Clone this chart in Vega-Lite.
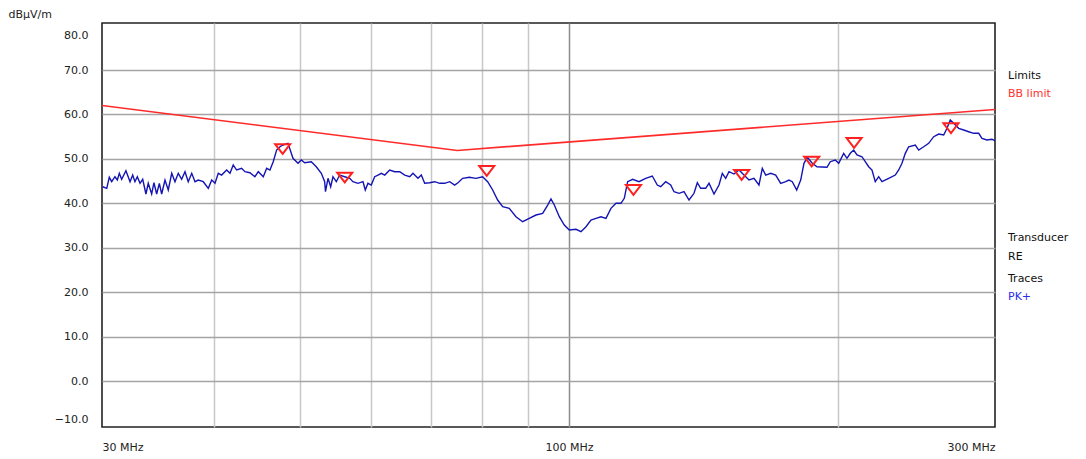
{
  "$schema": "https://vega.github.io/schema/vega-lite/v6.json",
  "width": 893,
  "height": 404,
  "autosize": {"type": "none"},
  "padding": {"left": 102, "top": 23, "right": 91, "bottom": 32},
  "background": "white",
  "config": {
    "view": {"stroke": "#222222", "strokeWidth": 1.6},
    "font": "DejaVu Sans"
  },
  "datasets": {
    "limit": [
      {"f": 30, "db": 62.0},
      {"f": 75, "db": 51.9},
      {"f": 300, "db": 61.1}
    ],
    "markers": [
      {"f": 47.8, "db": 52.2},
      {"f": 56.1, "db": 45.8},
      {"f": 80.9, "db": 47.3},
      {"f": 118.1, "db": 43.0},
      {"f": 156.1, "db": 46.4},
      {"f": 187.0, "db": 49.4},
      {"f": 208.6, "db": 53.6},
      {"f": 267.8, "db": 56.9}
    ],
    "trace": [
      {"f": 30.05, "db": 43.73}, {"f": 30.37, "db": 43.37}, {"f": 30.57, "db": 45.85}, {"f": 30.76, "db": 44.86},
      {"f": 31.02, "db": 45.98}, {"f": 31.21, "db": 45.24}, {"f": 31.37, "db": 46.75}, {"f": 31.56, "db": 45.40},
      {"f": 31.91, "db": 47.33}, {"f": 32.25, "db": 44.86}, {"f": 32.47, "db": 46.36}, {"f": 32.66, "db": 44.86},
      {"f": 32.86, "db": 45.98}, {"f": 33.09, "db": 44.50}, {"f": 33.32, "db": 45.40}, {"f": 33.60, "db": 42.09},
      {"f": 33.80, "db": 44.50}, {"f": 34.10, "db": 42.09}, {"f": 34.30, "db": 44.63}, {"f": 34.54, "db": 42.09},
      {"f": 34.78, "db": 44.50}, {"f": 34.99, "db": 42.09}, {"f": 35.29, "db": 45.24}, {"f": 35.59, "db": 42.99},
      {"f": 35.91, "db": 46.75}, {"f": 36.21, "db": 44.86}, {"f": 36.52, "db": 46.75}, {"f": 36.84, "db": 45.40},
      {"f": 37.16, "db": 47.11}, {"f": 37.47, "db": 44.86}, {"f": 37.81, "db": 46.75}, {"f": 38.13, "db": 44.86},
      {"f": 38.45, "db": 45.24}, {"f": 38.95, "db": 44.86}, {"f": 39.46, "db": 43.37}, {"f": 39.81, "db": 45.24},
      {"f": 40.15, "db": 44.50}, {"f": 40.49, "db": 46.75}, {"f": 40.84, "db": 46.36}, {"f": 41.37, "db": 47.49},
      {"f": 41.73, "db": 46.75}, {"f": 42.08, "db": 48.62}, {"f": 42.45, "db": 47.49}, {"f": 43.00, "db": 47.87},
      {"f": 43.37, "db": 47.11}, {"f": 43.93, "db": 46.88}, {"f": 44.50, "db": 45.98}, {"f": 44.89, "db": 47.11},
      {"f": 45.47, "db": 45.98}, {"f": 45.87, "db": 47.87}, {"f": 46.26, "db": 47.49}, {"f": 46.65, "db": 49.36},
      {"f": 47.06, "db": 51.99}, {"f": 47.47, "db": 52.73}, {"f": 47.84, "db": 53.12}, {"f": 48.46, "db": 53.50},
      {"f": 49.09, "db": 50.12}, {"f": 49.73, "db": 49.00}, {"f": 50.15, "db": 49.74}, {"f": 50.59, "db": 49.13},
      {"f": 51.46, "db": 49.36}, {"f": 52.13, "db": 48.23}, {"f": 52.81, "db": 46.75}, {"f": 53.27, "db": 44.86},
      {"f": 53.38, "db": 42.61}, {"f": 53.73, "db": 45.62}, {"f": 54.10, "db": 43.73}, {"f": 54.42, "db": 45.98},
      {"f": 54.89, "db": 44.86}, {"f": 55.37, "db": 46.36}, {"f": 56.09, "db": 45.98}, {"f": 56.82, "db": 45.62},
      {"f": 57.30, "db": 44.86}, {"f": 58.04, "db": 44.50}, {"f": 58.80, "db": 44.86}, {"f": 59.15, "db": 42.99},
      {"f": 59.56, "db": 44.50}, {"f": 60.07, "db": 44.11}, {"f": 60.60, "db": 45.98}, {"f": 61.12, "db": 46.36},
      {"f": 61.64, "db": 46.75}, {"f": 62.19, "db": 46.36}, {"f": 62.99, "db": 47.49}, {"f": 63.81, "db": 47.11},
      {"f": 64.64, "db": 47.11}, {"f": 65.48, "db": 46.36}, {"f": 66.33, "db": 45.98}, {"f": 66.89, "db": 46.75},
      {"f": 67.76, "db": 45.62}, {"f": 68.34, "db": 46.36}, {"f": 68.94, "db": 44.50}, {"f": 69.83, "db": 44.63},
      {"f": 70.74, "db": 44.86}, {"f": 71.66, "db": 44.50}, {"f": 72.59, "db": 44.50}, {"f": 73.53, "db": 44.86},
      {"f": 74.48, "db": 44.11}, {"f": 75.12, "db": 44.63}, {"f": 76.03, "db": 45.62}, {"f": 77.34, "db": 45.85},
      {"f": 78.68, "db": 45.62}, {"f": 80.05, "db": 45.98}, {"f": 81.09, "db": 44.86}, {"f": 82.15, "db": 42.99},
      {"f": 83.21, "db": 40.74}, {"f": 84.29, "db": 39.23}, {"f": 85.74, "db": 38.87}, {"f": 87.23, "db": 36.98},
      {"f": 88.75, "db": 35.85}, {"f": 90.28, "db": 36.62}, {"f": 91.85, "db": 37.36}, {"f": 93.45, "db": 37.74},
      {"f": 94.67, "db": 39.61}, {"f": 95.48, "db": 40.96}, {"f": 96.30, "db": 39.61}, {"f": 97.55, "db": 36.98},
      {"f": 98.81, "db": 35.11}, {"f": 100.09, "db": 33.99}, {"f": 101.84, "db": 34.14}, {"f": 103.16, "db": 33.60},
      {"f": 104.50, "db": 34.73}, {"f": 105.85, "db": 36.24}, {"f": 107.22, "db": 36.62}, {"f": 108.62, "db": 36.98},
      {"f": 110.02, "db": 36.62}, {"f": 111.45, "db": 38.87}, {"f": 112.90, "db": 40.00}, {"f": 114.36, "db": 40.00},
      {"f": 115.34, "db": 41.12}, {"f": 116.35, "db": 44.86}, {"f": 117.86, "db": 45.40}, {"f": 119.80, "db": 44.86},
      {"f": 121.89, "db": 45.62}, {"f": 123.98, "db": 46.14}, {"f": 125.59, "db": 44.11}, {"f": 126.70, "db": 43.73},
      {"f": 128.34, "db": 44.86}, {"f": 130.01, "db": 44.11}, {"f": 131.12, "db": 42.61}, {"f": 132.82, "db": 42.25},
      {"f": 134.54, "db": 42.61}, {"f": 136.29, "db": 40.74}, {"f": 138.06, "db": 42.25}, {"f": 139.24, "db": 44.63},
      {"f": 140.46, "db": 43.37}, {"f": 142.28, "db": 43.37}, {"f": 143.50, "db": 44.50}, {"f": 145.36, "db": 42.09},
      {"f": 147.25, "db": 44.11}, {"f": 148.51, "db": 46.75}, {"f": 149.81, "db": 45.62}, {"f": 151.09, "db": 47.11},
      {"f": 153.05, "db": 46.59}, {"f": 155.04, "db": 47.49}, {"f": 157.05, "db": 46.36}, {"f": 159.09, "db": 45.24},
      {"f": 161.15, "db": 45.62}, {"f": 163.24, "db": 44.11}, {"f": 164.64, "db": 47.87}, {"f": 166.09, "db": 46.36},
      {"f": 168.24, "db": 46.75}, {"f": 170.43, "db": 46.36}, {"f": 172.64, "db": 44.50}, {"f": 174.88, "db": 44.86},
      {"f": 176.37, "db": 45.24}, {"f": 177.88, "db": 44.86}, {"f": 179.91, "db": 42.99}, {"f": 181.77, "db": 45.24},
      {"f": 183.32, "db": 49.00}, {"f": 184.89, "db": 50.35}, {"f": 187.29, "db": 49.00}, {"f": 189.58, "db": 48.23},
      {"f": 194.53, "db": 48.10}, {"f": 196.19, "db": 49.36}, {"f": 198.73, "db": 49.74}, {"f": 200.48, "db": 49.00},
      {"f": 203.08, "db": 51.25}, {"f": 204.82, "db": 50.12}, {"f": 206.57, "db": 51.25}, {"f": 208.39, "db": 51.99},
      {"f": 210.17, "db": 50.87}, {"f": 212.89, "db": 50.48}, {"f": 214.71, "db": 49.36}, {"f": 216.60, "db": 48.23},
      {"f": 218.46, "db": 47.49}, {"f": 220.32, "db": 44.86}, {"f": 222.26, "db": 45.98}, {"f": 224.16, "db": 44.86},
      {"f": 228.07, "db": 45.62}, {"f": 231.98, "db": 46.36}, {"f": 234.03, "db": 47.49}, {"f": 236.03, "db": 49.00},
      {"f": 238.05, "db": 51.25}, {"f": 240.14, "db": 52.73}, {"f": 244.27, "db": 53.12}, {"f": 246.42, "db": 51.99},
      {"f": 249.62, "db": 52.73}, {"f": 252.85, "db": 53.50}, {"f": 256.13, "db": 54.99}, {"f": 259.46, "db": 55.59},
      {"f": 262.82, "db": 55.37}, {"f": 265.07, "db": 56.88}, {"f": 267.33, "db": 58.74}, {"f": 269.69, "db": 58.00},
      {"f": 273.19, "db": 56.88}, {"f": 276.73, "db": 56.49}, {"f": 280.32, "db": 56.11}, {"f": 283.96, "db": 55.75},
      {"f": 287.64, "db": 55.75}, {"f": 290.10, "db": 54.62}, {"f": 293.86, "db": 54.24}, {"f": 297.68, "db": 54.40},
      {"f": 300.0, "db": 54.08}
    ]
  },
  "layer": [
    {
      "data": {"name": "limit"},
      "mark": {"type": "line", "strokeWidth": 1.6, "clip": true},
      "encoding": {
        "x": {
          "field": "f", "type": "quantitative",
          "scale": {"type": "log", "domain": [30, 300], "nice": false},
          "axis": {
            "title": null,
            "values": [30, 40, 50, 60, 70, 80, 90, 100, 200, 300],
            "labelExpr": "datum.value == 30 || datum.value == 100 || datum.value == 300 ? datum.value + ' MHz' : ''",
            "labelFlush": true,
            "labelOverlap": false,
            "ticks": false,
            "domain": false,
            "grid": true,
            "gridColor": {
              "condition": [
                {"test": "datum.value == 100", "value": "#8c8c8c"},
                {"test": "datum.value == 30 || datum.value == 300", "value": "transparent"}
              ],
              "value": "#c8c8c8"
            },
            "gridWidth": 1.5,
            "labelPadding": 14,
            "labelFont": "DejaVu Sans",
            "labelFontSize": 11,
            "labelColor": "#222222"
          }
        },
        "y": {
          "field": "db", "type": "quantitative",
          "scale": {"domain": [-10.35, 80.58], "nice": false, "zero": false},
          "axis": {
            "values": [-10, 0, 10, 20, 30, 40, 50, 60, 70, 80],
            "format": ".1f",
            "labelFlush": false,
            "labelOffset": {
              "condition": [
                {"test": "datum.value == 80", "value": 10},
                {"test": "datum.value == -10", "value": -6}
              ],
              "value": 0
            },
            "ticks": false,
            "domain": false,
            "grid": true,
            "gridColor": {
              "condition": {"test": "datum.value == 80 || datum.value == -10", "value": "transparent"},
              "value": "#a4a4a4"
            },
            "gridWidth": 1.5,
            "labelPadding": 14,
            "labelFont": "DejaVu Sans",
            "labelFontSize": 11,
            "labelColor": "#222222",
            "title": "dBµV/m",
            "titleAngle": 0,
            "titleAlign": "left",
            "titleBaseline": "middle",
            "titleX": -94,
            "titleY": -9,
            "titleFont": "DejaVu Sans",
            "titleFontSize": 11,
            "titleFontWeight": "normal",
            "titleColor": "#222222"
          }
        },
        "color": {
          "datum": "BB limit", "type": "nominal",
          "scale": {"range": ["#ff2a2a"]},
          "legend": {
            "title": "Limits", "orient": "none", "legendX": 906, "legendY": 47,
            "padding": 0, "symbolOpacity": 0, "symbolSize": 1, "symbolStrokeWidth": 0, "labelOffset": -11,
            "labelColor": "#ff3030", "labelFont": "DejaVu Sans", "labelFontSize": 11,
            "titleFont": "DejaVu Sans", "titleFontSize": 11, "titleFontWeight": "normal", "titleColor": "#111111",
            "titlePadding": 7
          }
        }
      }
    },
    {
      "data": {"name": "trace"},
      "mark": {"type": "line", "strokeWidth": 1.4, "clip": true},
      "encoding": {
        "x": {"field": "f", "type": "quantitative"},
        "y": {"field": "db", "type": "quantitative"},
        "color": {
          "datum": "PK+", "type": "nominal",
          "scale": {"range": ["#1414b4"]},
          "legend": {
            "title": "Traces", "orient": "none", "legendX": 906, "legendY": 250,
            "padding": 0, "symbolOpacity": 0, "symbolSize": 1, "symbolStrokeWidth": 0, "labelOffset": -11,
            "labelColor": "#2b2bea", "labelFont": "DejaVu Sans", "labelFontSize": 11,
            "titleFont": "DejaVu Sans", "titleFontSize": 11, "titleFontWeight": "normal", "titleColor": "#111111",
            "titlePadding": 7
          }
        }
      }
    },
    {
      "data": {"name": "markers"},
      "mark": {"type": "point", "shape": "M-1,-0.65L1,-0.65L0,0.65Z", "size": 225, "filled": false, "strokeWidth": 2, "color": "#ff2020", "opacity": 1},
      "encoding": {
        "x": {"field": "f", "type": "quantitative"},
        "y": {"field": "db", "type": "quantitative"}
      }
    },
    {
      "data": {"values": [{"transducer": "RE"}]},
      "mark": {"type": "point", "opacity": 0},
      "encoding": {
        "color": {
          "datum": "RE", "type": "nominal",
          "scale": {"range": ["#111111"]},
          "legend": {
            "title": "Transducer", "orient": "none", "legendX": 906, "legendY": 209,
            "padding": 0, "symbolOpacity": 0, "symbolSize": 1, "symbolStrokeWidth": 0, "labelOffset": -11,
            "labelColor": "#111111", "labelFont": "DejaVu Sans", "labelFontSize": 11,
            "titleFont": "DejaVu Sans", "titleFontSize": 11, "titleFontWeight": "normal", "titleColor": "#111111",
            "titlePadding": 8
          }
        }
      }
    }
  ],
  "resolve": {"scale": {"color": "independent"}, "legend": {"color": "independent"}}
}
